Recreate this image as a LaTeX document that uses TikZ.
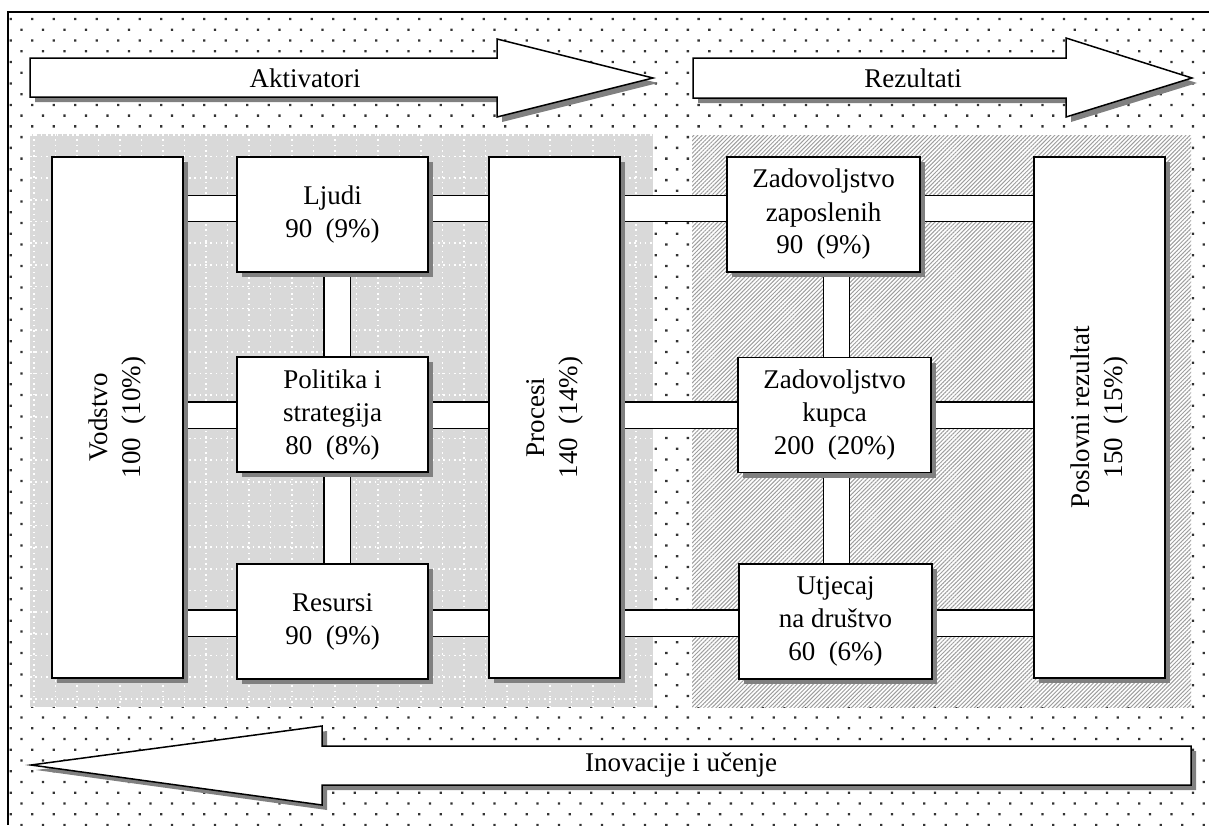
\documentclass[tikz,border=0pt]{standalone}
\usepackage{fontspec}
\setmainfont{Liberation Serif}
\usepackage{tikz}
\usetikzlibrary{calc,patterns.meta,shadows}
\pgfdeclarelayer{bg}
\pgfdeclarelayer{links}
\pgfsetlayers{bg,links,main}
\tikzset{
	shade off/.style={drop shadow={shadow xshift=2.5pt, shadow yshift=-2.5pt, fill=black!50, opacity=1}},
	box/.style={draw=black, fill=white, line width=0.7pt, inner sep=0pt, align=center, shade off},
	smallbox/.style={box, minimum width=95.5pt, minimum height=57.5pt},
	widebox/.style={box, minimum width=96.5pt, minimum height=57.5pt},
	tallbox/.style={box, minimum width=65.5pt, minimum height=260.5pt},
	bar/.style={draw=black, line width=13.9pt, preaction={draw=black!50, transform canvas={xshift=2.5pt, yshift=-2.5pt}}, postaction={draw=white, line width=12.5pt}},
	bigarrow/.style={draw=black, fill=white, line width=0.75pt, line join=miter, shade off},
	gridline/.style={white, line width=0.8pt, dash pattern=on 0.8pt off 1.85pt},
}

\begin{document}
\begin{tikzpicture}[x=0.5pt, y=-0.5pt, font=\fontsize{13.5pt}{16.5pt}\selectfont]
			%%%%% START %%%%%
			\useasboundingbox (0,0) rectangle (1209,825);
			
			\begin{pgfonlayer}{bg}
				\fill[pattern={Dots[distance=7.6pt, angle=45, radius=0.8pt]}, pattern color=black!80] (8,12) rectangle (1209,825);
				\draw[line width=0.75pt] (8,825) -- (8,12) -- (1209,12);
				
				\fill[black!15] (30,134) rectangle (653,707);
				\foreach \k in {0,...,28} \draw[gridline] ({34+21.5*\k},134) -- ({34+21.5*\k},707);
				\foreach \k in {0,...,26} \draw[gridline] (30,{134.7+21.7*\k}) -- (653,{134.7+21.7*\k});
				
				\fill[white] (692,135) rectangle (1191,707);
				\fill[pattern={Lines[angle=45, distance=1.45pt, line width=0.5pt]}, pattern color=black!38] (692,135) rectangle (1191,707);
			\end{pgfonlayer}
			
			% big arrows
			\draw[bigarrow] (30,58) -- (497,58) -- (497,39) -- (653,78) -- (497,117) -- (497,97) -- (30,97) -- cycle;
			\node (aktiv) at (305,78) {Aktivatori};
			\draw[bigarrow] (693,58) -- (1066,58) -- (1066,38) -- (1192,78) -- (1066,117) -- (1066,98) -- (693,98) -- cycle;
			\node (rezul) at (913,78) {Rezultati};
			\draw[bigarrow] (1191,746) -- (322,746) -- (322,726) -- (31,765) -- (322,805) -- (322,785) -- (1191,785) -- cycle;
			\node (inov) at (681,765) {Inovacije i učenje};
			
			% boxes
			\node[tallbox] (vod) at (117.5,417.5) {};
			\node[rotate=90, align=center] (vodtxt) at (vod.center) {Vodstvo\\100\ \ (10\%)};
			\node[smallbox] (ljudi) at (332.5,214.5) {Ljudi\\90\ \ (9\%)};
			\node[smallbox] (polit) at (332.5,414.5) {Politika i\\strategija\\80\ \ (8\%)};
			\node[smallbox] (resur) at (332.5,621.5) {Resursi\\90\ \ (9\%)};
			\node[tallbox] (proc) at (554.5,417.5) {};
			\node[rotate=90, align=center] (proctxt) at (proc.center) {Procesi\\140\ \ (14\%)};
			\node[widebox] (zapos) at (823.5,214.5) {Zadovoljstvo\\zaposlenih\\90\ \ (9\%)};
			\node[widebox] (kupca) at (834.5,415) {Zadovoljstvo\\kupca\\200\ \ (20\%)};
			\node[widebox] (utjec) at (835.5,621.5) {Utjecaj\\na društvo\\60\ \ (6\%)};
			\node[tallbox] (posl) at (1099.5,417.5) {};
			\node[rotate=90, align=center] (posltxt) at (posl.center) {Poslovni rezultat\\150\ \ (15\%)};
			
			% links
			\coordinate (r1) at (0,208.5);
			\coordinate (r2) at (0,415);
			\coordinate (r3) at (0,623);
			\coordinate (c1) at (337,0);
			\coordinate (c2) at (836.5,0);
			\begin{pgfonlayer}{links}
				\draw[bar] (vod.east |- r1) -- (ljudi.west |- r1);
				\draw[bar] (ljudi.east |- r1) -- (proc.west |- r1);
				\draw[bar] (proc.east |- r1) -- (zapos.west |- r1);
				\draw[bar] (zapos.east |- r1) -- (posl.west |- r1);
				\draw[bar] (vod.east |- r2) -- (polit.west |- r2);
				\draw[bar] (polit.east |- r2) -- (proc.west |- r2);
				\draw[bar] (proc.east |- r2) -- (kupca.west |- r2);
				\draw[bar] (kupca.east |- r2) -- (posl.west |- r2);
				\draw[bar] (vod.east |- r3) -- (resur.west |- r3);
				\draw[bar] (resur.east |- r3) -- (proc.west |- r3);
				\draw[bar] (proc.east |- r3) -- (utjec.west |- r3);
				\draw[bar] (utjec.east |- r3) -- (posl.west |- r3);
				\draw[bar] (ljudi.south -| c1) -- (polit.north -| c1);
				\draw[bar] (polit.south -| c1) -- (resur.north -| c1);
				\draw[bar] (zapos.south -| c2) -- (kupca.north -| c2);
				\draw[bar] (kupca.south -| c2) -- (utjec.north -| c2);
			\end{pgfonlayer}
			
			%%%%% END %%%%%
\end{tikzpicture}
\end{document}
